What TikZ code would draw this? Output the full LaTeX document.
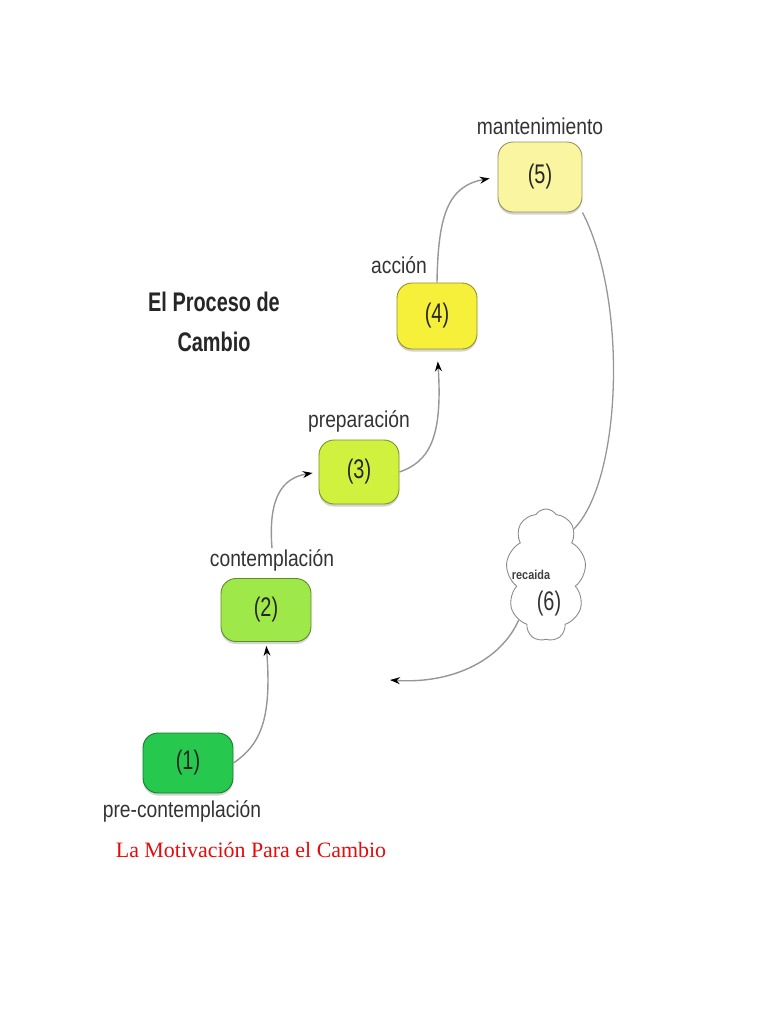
\documentclass[tikz,border=0pt]{standalone}
\usepackage{fontspec}
\usepackage{tikz}
\usetikzlibrary{positioning,arrows.meta,shapes.symbols,shadows}

\newfontfamily\narrowsans{Liberation Sans}[FakeStretch=0.84]
\newfontfamily\titlesans{Liberation Sans}[FakeStretch=0.74]
\newfontfamily\captionserif{Liberation Serif}

\definecolor{stageA}{RGB}{38,200,78}
\definecolor{stageB}{RGB}{158,232,74}
\definecolor{stageC}{RGB}{208,242,62}
\definecolor{stageD}{RGB}{246,240,58}
\definecolor{stageE}{RGB}{250,245,160}
\definecolor{linkgray}{RGB}{150,150,150}
\definecolor{captionred}{RGB}{230,10,10}

\tikzset{
  stage/.style={draw=#1!60!black,line width=0.9pt,fill=#1,rectangle,rounded corners=15bp,
    minimum width=86bp,minimum height=62bp,inner sep=0pt,
    font=\titlesans\fontsize{27}{29}\selectfont,text=black!85,
    drop shadow={shadow xshift=0bp,shadow yshift=-2.5bp,opacity=0.35}},
  stagelabel/.style={font=\narrowsans\fontsize{23}{25}\selectfont,text=black!80,inner sep=1bp},
  link/.style={draw=linkgray,line width=1.4pt,-{Stealth[color=black,length=10pt,width=7pt]}},
}

\begin{document}
\begin{tikzpicture}[x=1bp,y=-1bp]
  \useasboundingbox (0,0) rectangle (768,1024);
  % the five stages, bottom to top
  \node[stage=stageA,minimum width=90bp,minimum height=60bp] (pre) at (188,763) {(1)};
  \node[stage=stageB,minimum width=90bp,minimum height=63bp] (contem) at (266,610) {(2)};
  \node[stage=stageC,minimum width=80bp,minimum height=64bp] (prep) at (359,472) {(3)};
  \node[stage=stageD,minimum width=80bp,minimum height=66bp] (accion) at (437,316) {(4)};
  \node[stage=stageE,minimum width=84bp,minimum height=70bp] (mant) at (540,177) {(5)};
  \node[stagelabel] (preL) [below=6bp of pre,xshift=-6bp] {pre-contemplación};
  \node[stagelabel] (contemL) [above=6bp of contem,xshift=6bp] {contemplación};
  \node[stagelabel] (prepL) [above=6bp of prep] {preparación};
  \node[stagelabel] (accionL) [above=8bp of accion,xshift=-38bp] {acción};
  \node[stagelabel] (mantL) [above=6bp of mant] {mantenimiento};
  % relapse cloud
  \node[cloud,draw=black!45,line width=0.9pt,fill=white,cloud puffs=9,cloud puff arc=115,aspect=0.6,
        minimum width=80bp,minimum height=132bp] (recaida) at (546,575) {};
  \node[font=\narrowsans\bfseries\fontsize{13}{14}\selectfont,text=black!75] (recaidaT) at (531,575) {recaida};
  \node[font=\titlesans\fontsize{27}{29}\selectfont,text=black!80] (recaidaN) at (549,604) {(6)};
  \coordinate (back) at (390,680);
  % title and caption
  \node[font=\titlesans\bfseries\fontsize{27}{40}\selectfont,text=black!85,align=center] (title) at (214,322)
        {El Proceso de\\Cambio};
  \node[font=\captionserif\fontsize{22}{24}\selectfont,text=captionred] (caption) at (251,850)
        {La Motivación Para el Cambio};
  % connectors
  \draw[link,shorten >=4bp] (pre.east) .. controls (260,745) and (272,720) .. (contem.south);
  \draw[link,shorten >=6bp] (contemL.north) .. controls (268,498) and (282,478) .. (prep.west);
  \draw[link,shorten >=12bp] (prep.east) .. controls (428,462) and (443,440) .. (accion.south);
  \draw[link,shorten >=8bp] (accion.north) .. controls (438,215) and (448,186) .. (mant.west);
  \draw[draw=linkgray,line width=1.3pt] (mant.south east) .. controls (628,300) and (622,480) .. (recaida.north east);
  \draw[link] (recaida.south west) .. controls (500,662) and (450,684) .. (back);
\end{tikzpicture}
\end{document}
